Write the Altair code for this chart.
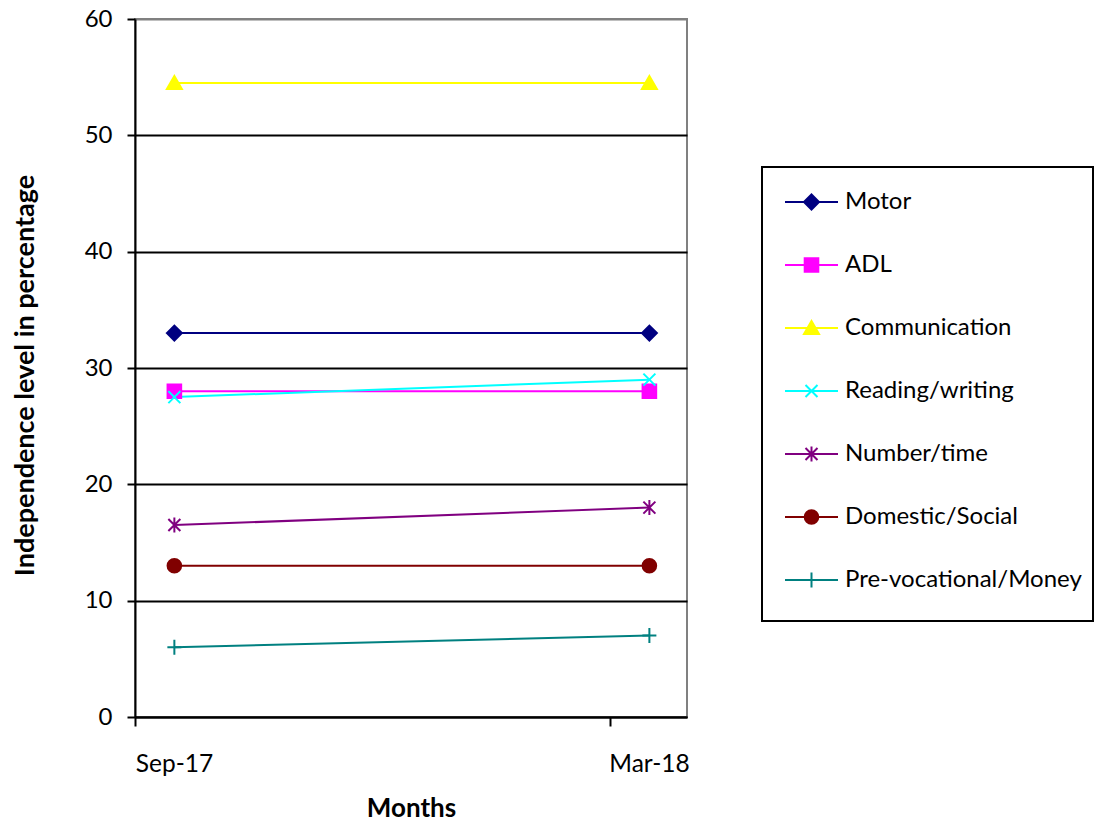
import altair as alt
import pandas as pd

# ---------------- data ----------------
months = ["Sep-17", "Mar-18"]
month_dates = ["2017-09-16", "2018-03-16"]
series = ["Motor", "ADL", "Communication", "Reading/writing",
          "Number/time", "Domestic/Social", "Pre-vocational/Money"]
sep17 = [33, 28, 54.5, 27.5, 16.5, 13, 6]
mar18 = [33, 28, 54.5, 29, 18, 13, 7]
y_ticks = [0, 10, 20, 30, 40, 50, 60]

colors = ["#000080", "#FF00FF", "#FFFF00", "#00FFFF", "#800080", "#800000", "#008080"]

rows = []
for s, a, b in zip(series, sep17, mar18):
    rows.append({"series": s, "month": months[0], "date": month_dates[0], "value": a})
    rows.append({"series": s, "month": months[1], "date": month_dates[1], "value": b})
df = pd.DataFrame(rows)

FONT = "Lato"


# ---------------- marker shapes (pixel geometry -> vega unit paths) ----------------
def shape_paths(r, dx=0.0, line=None, pad_last=None):
    def p(x, y):
        return f"{(x + dx) / r:.4f},{y / r:.4f}"

    seg = f"M{p(-line, 0)}L{p(line, 0)}" if line else ""
    R = 6.8
    k = 0.5523 * R
    circle = (f"M{p(R, 0)}C{p(R, k)} {p(k, R)} {p(0, R)}"
              f"C{p(-k, R)} {p(-R, k)} {p(-R, 0)}"
              f"C{p(-R, -k)} {p(-k, -R)} {p(0, -R)}"
              f"C{p(k, -R)} {p(R, -k)} {p(R, 0)}Z")
    paths = [
        f"M{p(-7.5, 0)}L{p(0, -7.5)}L{p(7.5, 0)}L{p(0, 7.5)}Z",
        f"M{p(-6.8, -6.8)}L{p(6.8, -6.8)}L{p(6.8, 6.8)}L{p(-6.8, 6.8)}Z",
        f"M{p(0, -7)}L{p(7.5, 6)}L{p(-7.5, 6)}Z",
        f"M{p(-6, -6)}L{p(6, 6)}M{p(-6, 6)}L{p(6, -6)}",
        f"M{p(-6, -6)}L{p(6, 6)}M{p(-6, 6)}L{p(6, -6)}M{p(0, -7.5)}L{p(0, 7.5)}",
        circle,
        f"M{p(-7, 0)}L{p(7, 0)}M{p(0, -7.5)}L{p(0, 7.5)}",
    ]
    out = [seg + path for path in paths]
    if pad_last:
        # invisible move-to below the last entry gives the legend box its bottom margin
        out[-1] = out[-1] + f"M{p(0, pad_last)}"
    return out


MAIN_SIZE = 196          # sqrt = 14 -> 7 px per unit
LEG_SIZE = 2116          # sqrt = 46 -> 23 px per unit
main_paths = shape_paths(7.0)
legend_paths = shape_paths(23.0, dx=14.5, line=26.5, pad_last=25)

month_label_expr = (
    f"utcmonth(datum.value) == 8 ? '{months[0]}' : '{months[1]}'"
)

# ---------------- encodings ----------------
x_enc = alt.X(
    "date:T",
    scale=alt.Scale(
        type="utc", nice=False,
        domain=[alt.DateTime(year=2017, month=9, date=1, utc=True),
                alt.DateTime(year=2018, month=3, date=30, hours=8, utc=True)],
    ),
    axis=alt.Axis(
        values=[alt.DateTime(year=2017, month=9, date=1, utc=True),
                alt.DateTime(year=2018, month=3, date=1, utc=True)],
        labelExpr=month_label_expr, labelFlush=False, labelAlign="center",
        labelOffset=39, labelPadding=38, labelBaseline="middle",
        labelFont=FONT, labelFontSize=24.5, labelColor="black",
        tickSize=9, tickColor="black", tickWidth=2,
        domainColor="black", domainWidth=2,
        grid=False,
        title="Months", titleFont=FONT, titleFontSize=26, titleFontWeight="bold",
        titleColor="black", titleX=276, titleY=91, titleBaseline="middle",
        titleAlign="center",
    ),
)

y_enc = alt.Y(
    "value:Q",
    scale=alt.Scale(domain=[0, 60], nice=False, zero=True),
    axis=alt.Axis(
        values=y_ticks,
        labelFont=FONT, labelFontSize=24, labelColor="black", labelPadding=15,
        tickSize=8, tickColor="black", tickWidth=2,
        domainColor="black", domainWidth=2,
        grid=True, gridWidth=2,
        gridColor={"condition": {"test": "datum.value === 60", "value": "#808080"},
                   "value": "black"},
        title="Independence level in percentage", titleFont=FONT, titleFontSize=27,
        titleFontWeight="bold", titleColor="black",
        titleX=-110, titleY=356, titleAngle=-90, titleBaseline="middle",
        titleAlign="center",
    ),
)

color_scale = alt.Scale(domain=series, range=colors)

lines = alt.Chart(df).mark_line(strokeWidth=2).encode(
    x=x_enc, y=y_enc,
    color=alt.Color("series:N", scale=color_scale, legend=None),
    order=alt.Order("date:T"),
)

points = alt.Chart(df).mark_point(filled=True, opacity=1, size=MAIN_SIZE, strokeWidth=2).encode(
    x=x_enc, y=y_enc,
    fill=alt.Fill("series:N", scale=color_scale, legend=None),
    stroke=alt.Stroke("series:N", scale=color_scale, legend=None),
    shape=alt.Shape("series:N", scale=alt.Scale(domain=series, range=main_paths), legend=None),
)

leg = dict(
    title=None, orient="none", legendX=627, legendY=148,
    padding=11, strokeColor="black", fillColor="white",
    labelFont=FONT, labelFontSize=24, labelColor="black", labelLimit=600,
    labelOffset=24, rowPadding=27, symbolSize=LEG_SIZE, symbolStrokeWidth=2,
    symbolOpacity=1,
)

legend_layer = alt.Chart(df).mark_point(filled=True, opacity=1, strokeWidth=2).transform_filter(
    "false"
).encode(
    fill=alt.Fill("series:N", scale=color_scale, legend=alt.Legend(**leg)),
    stroke=alt.Stroke("series:N", scale=color_scale, legend=alt.Legend(**leg)),
    shape=alt.Shape("series:N", scale=alt.Scale(domain=series, range=legend_paths),
                    legend=alt.Legend(**leg)),
)

chart = alt.layer(lines, points, legend_layer).resolve_scale(
    shape="independent", fill="independent", stroke="independent"
).properties(
    width=552, height=698,
    autosize=alt.AutoSizeParams(type="none"),
    padding={"left": 127, "top": 11, "right": 407, "bottom": 104},
    background="white",
).configure_view(
    fill="#C0C0C0", stroke="#808080", strokeWidth=2,
).configure_legend(
    strokeWidth=2,
)

chart.save("out.html", embed_options={"renderer": "svg", "actions": False})
